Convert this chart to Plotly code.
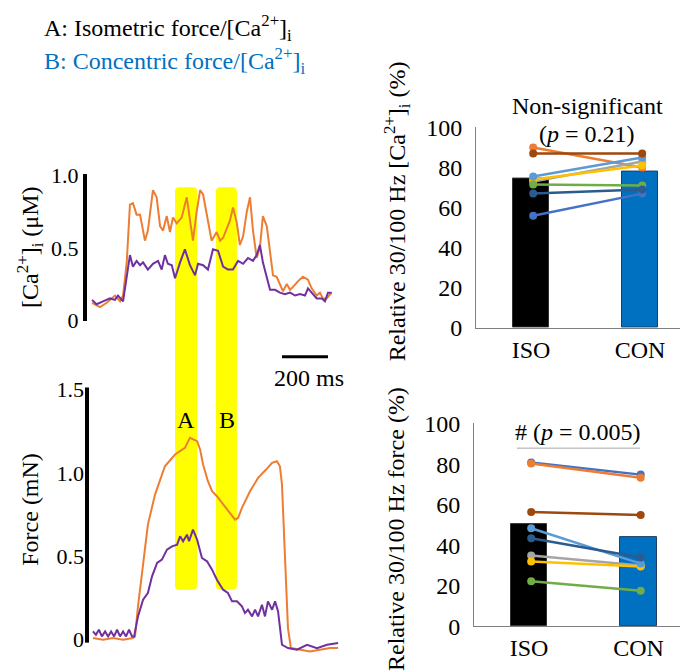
import plotly.graph_objects as go

# ---------------- data ----------------
# Ca2+ traces (time in ms, [Ca2+]i in uM)
ca_orange_t = [0, 35, 64, 100, 122, 135, 151, 165, 178, 194, 209, 230, 243, 265, 281, 296, 309, 325, 339, 352,
               368, 390, 412, 426, 439, 455, 470, 483, 499, 520, 542, 557, 570, 586, 600, 613, 629, 643, 657, 673,
               687, 700, 716, 730, 743, 760, 774, 787, 803, 817, 830, 847, 861, 874, 896, 917, 939, 955, 977, 991,
               1004, 1020, 1042]
ca_orange_v = [0.12, 0.09, 0.12, 0.17, 0.13, 0.17, 0.40, 0.80, 0.81, 0.73, 0.73, 0.55, 0.62, 0.90, 0.85, 0.65, 0.62,
               0.72, 0.61, 0.71, 0.67, 0.71, 0.85, 0.69, 0.55, 0.75, 0.90, 0.87, 0.73, 0.55, 0.61, 0.55, 0.57, 0.63,
               0.69, 0.78, 0.68, 0.52, 0.58, 0.75, 0.85, 0.62, 0.43, 0.50, 0.72, 0.65, 0.45, 0.31, 0.30, 0.25, 0.20,
               0.25, 0.21, 0.23, 0.27, 0.30, 0.28, 0.22, 0.17, 0.19, 0.15, 0.15, 0.19]
ca_purple_t = [0, 20, 48, 78, 100, 113, 135, 151, 165, 178, 194, 209, 222, 243, 265, 287, 303, 317, 330, 347,
               361, 383, 404, 426, 448, 461, 483, 504, 526, 548, 570, 591, 613, 635, 657, 678, 700, 716, 730, 743,
               760, 774, 796, 817, 839, 861, 883, 904, 926, 939, 955, 977, 999, 1013, 1026, 1042]
ca_purple_v = [0.14, 0.11, 0.13, 0.15, 0.14, 0.17, 0.13, 0.29, 0.45, 0.37, 0.41, 0.38, 0.40, 0.35, 0.39, 0.41, 0.35,
               0.45, 0.39, 0.38, 0.29, 0.40, 0.49, 0.38, 0.31, 0.39, 0.38, 0.35, 0.49, 0.48, 0.37, 0.35, 0.35, 0.41,
               0.39, 0.43, 0.41, 0.45, 0.52, 0.40, 0.29, 0.21, 0.21, 0.19, 0.18, 0.19, 0.17, 0.18, 0.17, 0.22, 0.19,
               0.15, 0.15, 0.13, 0.19, 0.19]

# Force traces (time in ms, force in mN)
f_orange_t = [4, 48, 91, 135, 178, 187, 200, 222, 243, 274, 296, 317, 361, 404, 426, 457, 470, 483, 504, 522, 543,
              570, 600, 622, 635, 652, 687, 722, 757, 783, 804, 817, 826, 835, 843, 852, 865, 904, 948, 991, 1035,
              1070]
f_orange_v = [0.01, 0.00, 0.01, 0.00, 0.01, 0.02, 0.20, 0.47, 0.69, 0.87, 0.96, 1.04, 1.11, 1.15, 1.21, 1.19, 1.14,
              1.05, 0.95, 0.89, 0.86, 0.81, 0.76, 0.72, 0.73, 0.79, 0.89, 0.97, 1.02, 1.06, 1.07, 1.04, 0.93, 0.65,
              0.30, 0.07, -0.05, -0.06, -0.07, -0.06, -0.05, -0.05]
f_purple_t = [4, 17, 30, 43, 57, 70, 83, 96, 109, 122, 135, 148, 161, 174, 183, 200, 222, 243, 261, 283, 304, 326,
              348, 370, 383, 396, 413, 422, 439, 457, 478, 500, 522, 543, 570, 591, 609, 630, 652, 665, 678, 696,
              709, 722, 739, 752, 765, 783, 796, 809, 826, 852, 891, 935, 978, 1022, 1070]
f_purple_v = [0.05, 0.03, 0.06, 0.02, 0.05, 0.02, 0.05, 0.02, 0.06, 0.02, 0.05, 0.02, 0.06, 0.02, 0.02, 0.14, 0.24,
              0.28, 0.38, 0.46, 0.48, 0.54, 0.56, 0.57, 0.62, 0.59, 0.63, 0.59, 0.66, 0.60, 0.49, 0.47, 0.42, 0.36,
              0.30, 0.28, 0.23, 0.23, 0.20, 0.16, 0.18, 0.14, 0.18, 0.14, 0.21, 0.14, 0.23, 0.18, 0.23, 0.17, -0.03,
              -0.05, -0.06, -0.03, -0.05, -0.03, -0.02]

# analysis windows (ms) and scale bar (ms)
window_A = [361, 457]
window_B = [539, 630]
scale_bar = [826, 1026]

# paired data
groups = ["ISO", "CON"]
subject_colors = ["#4472C4", "#ED7D31", "#A5A5A5", "#FFC000", "#5B9BD5", "#70AD47", "#2A5C8F", "#9E480E"]
ca_rel_iso = [56, 90, 73, 74, 75.5, 71.6, 67, 87]
ca_rel_con = [67, 80, 83, 81, 85, 71, 69, 87]
ca_rel_mean = [74.5, 78]
force_rel_iso = [81, 80.5, 35, 32, 48.5, 22.3, 43.5, 56.5]
force_rel_con = [75, 73.5, 30, 29.5, 31, 17.6, 34, 55]
force_rel_mean = [50.5, 44.3]
bar_colors = ["#000000", "#0070C0"]

# ---------------- layout geometry (pixels) ----------------
W, H = 680, 672
SERIF = "Liberation Serif, Times New Roman, serif"
FS = 24
ORANGE, PURPLE = "#ED7D31", "#7030A0"

def px(x):
    return x / W

def py(y):
    return 1 - y / H

T0_PX, PX_PER_MS = 92, 0.23
TRACE_X_DOM = (87, 345)
t_range = [(TRACE_X_DOM[0] - T0_PX) / PX_PER_MS, (TRACE_X_DOM[1] - T0_PX) / PX_PER_MS]

CA_ZERO, CA_SCALE, CA_DOM = 320, 150, (168, 321)
F_ZERO, F_SCALE, F_DOM, F_LINE = 652, 173.3, (390, 672), (390, 655)

def t2px(t):
    return T0_PX + PX_PER_MS * t

fig = go.Figure()

fig.add_trace(go.Scatter(x=ca_orange_t, y=ca_orange_v, mode="lines", line=dict(color=ORANGE, width=2),
                         xaxis="x", yaxis="y", hoverinfo="skip"))
fig.add_trace(go.Scatter(x=ca_purple_t, y=ca_purple_v, mode="lines", line=dict(color=PURPLE, width=2),
                         xaxis="x", yaxis="y", hoverinfo="skip"))
fig.add_trace(go.Scatter(x=f_orange_t, y=f_orange_v, mode="lines", line=dict(color=ORANGE, width=2),
                         xaxis="x2", yaxis="y2", hoverinfo="skip"))
fig.add_trace(go.Scatter(x=f_purple_t, y=f_purple_v, mode="lines", line=dict(color=PURPLE, width=2),
                         xaxis="x2", yaxis="y2", hoverinfo="skip"))

# bars
fig.add_trace(go.Bar(x=[0, 1], y=ca_rel_mean, width=0.33, marker=dict(color=bar_colors,
                     line=dict(color=["#333333", "#1F3F66"], width=1)), xaxis="x3", yaxis="y3"))
fig.add_trace(go.Bar(x=[0, 1], y=force_rel_mean, width=0.33, marker=dict(color=bar_colors,
                     line=dict(color=["#333333", "#1F3F66"], width=1)), xaxis="x4", yaxis="y4"))
for c, a, b in zip(subject_colors, ca_rel_iso, ca_rel_con):
    fig.add_trace(go.Scatter(x=[0.02, 1.02], y=[a, b], mode="lines+markers", line=dict(color=c, width=2.5),
                             marker=dict(color=c, size=8), xaxis="x3", yaxis="y3"))
for c, a, b in zip(subject_colors, force_rel_iso, force_rel_con):
    fig.add_trace(go.Scatter(x=[0.02, 1.02], y=[a, b], mode="lines+markers", line=dict(color=c, width=2.5),
                             marker=dict(color=c, size=8), xaxis="x4", yaxis="y4"))

tick_font = dict(family=SERIF, size=FS, color="black")
trace_tick_font = dict(family=SERIF, size=22, color="black")

# trace axes
fig.update_layout(
    xaxis=dict(domain=[px(TRACE_X_DOM[0]), px(TRACE_X_DOM[1])], range=t_range, visible=False, anchor="y"),
    xaxis2=dict(domain=[px(TRACE_X_DOM[0]), px(TRACE_X_DOM[1])], range=t_range, visible=False, anchor="y2"),
    yaxis=dict(domain=[py(CA_DOM[1]), py(CA_DOM[0])],
               range=[(CA_ZERO - CA_DOM[1]) / CA_SCALE, (CA_ZERO - CA_DOM[0]) / CA_SCALE],
               tickvals=[0, 0.5, 1.0], ticktext=["0", "0.5", "1.0"], showline=True, linewidth=4,
               linecolor="black", showgrid=False, zeroline=False, ticks="", tickfont=trace_tick_font, anchor="x",
               ticklabelstandoff=0),
    yaxis2=dict(domain=[py(F_DOM[1]), py(F_DOM[0])],
                range=[(F_ZERO - F_DOM[1]) / F_SCALE, (F_ZERO - F_DOM[0]) / F_SCALE],
                tickvals=[0, 0.5, 1.0, 1.5], ticktext=["0", "0.5", "1.0", "1.5"], showline=False,
                showgrid=False, zeroline=False, ticks="", tickfont=trace_tick_font, anchor="x2",
                ticklabelstandoff=2),
)

# bar axes
def bar_xrange(xdom, iso_c, con_c):
    unit = con_c - iso_c
    return [(xdom[0] - iso_c) / unit, (xdom[1] - iso_c) / unit]

xr3 = bar_xrange((476, 680), 531, 640)
xr4 = bar_xrange((474, 680), 529, 638.5)
AX_GRAY = "#7F7F7F"
fig.update_layout(
    xaxis3=dict(domain=[px(476), px(680)], range=xr3, tickvals=[0, 1], ticktext=groups, showline=True,
                linecolor=AX_GRAY, linewidth=1, showgrid=False, zeroline=False, ticks="", tickfont=tick_font,
                anchor="y3"),
    yaxis3=dict(domain=[py(328), py(119)], range=[0, (328 - 119) / 2.08], tickvals=[0, 20, 40, 60, 80, 100],
                showline=True, linecolor=AX_GRAY, linewidth=1, showgrid=False, zeroline=False, ticks="",
                tickfont=tick_font, anchor="x3", ticklabelstandoff=8),
    xaxis4=dict(domain=[px(474), px(680)], range=xr4, tickvals=[0, 1], ticktext=groups, showline=True,
                linecolor=AX_GRAY, linewidth=1, showgrid=False, zeroline=False, ticks="", tickfont=tick_font,
                anchor="y4"),
    yaxis4=dict(domain=[py(638), py(427)], range=[0, (638 - 427) / 2.1], tickvals=[0, 20, 40, 60, 80, 100],
                showline=True, linecolor=AX_GRAY, linewidth=1, showgrid=False, zeroline=False, ticks="",
                tickfont=tick_font, anchor="x4", ticklabelstandoff=8),
)

# yellow windows with rounded corners
def band_path(t0, t1, ytop_px, ybot_px, r=4):
    x0, x1 = px(t2px(t0)), px(t2px(t1))
    rx, ry = r / W, r / H
    y0, y1 = py(ybot_px), py(ytop_px)
    return (f"M {x0+rx},{y1} L {x1-rx},{y1} Q {x1},{y1} {x1},{y1-ry} L {x1},{y0+ry} Q {x1},{y0} {x1-rx},{y0} "
            f"L {x0+rx},{y0} Q {x0},{y0} {x0},{y0+ry} L {x0},{y1-ry} Q {x0},{y1} {x0+rx},{y1} Z")

shapes = []
for w in (window_A, window_B):
    shapes.append(dict(type="path", path=band_path(w[0], w[1], 182, 600), xref="paper", yref="paper",
                       fillcolor="#FFFF00", line=dict(width=0), layer="below"))
# force axis bar (drawn separately so that traces may dip below zero)
shapes.append(dict(type="line", xref="paper", yref="paper", x0=px(87), x1=px(87), y0=py(F_LINE[1]),
                   y1=py(F_LINE[0]), line=dict(color="black", width=4)))
shapes.append(dict(type="line", xref="x2", yref="paper", x0=scale_bar[0], x1=scale_bar[1], y0=py(358), y1=py(358),
                   line=dict(color="black", width=3)))
shapes.append(dict(type="line", xref="paper", yref="paper", x0=px(517), x1=px(640), y0=py(453), y1=py(453),
                   line=dict(color="#A6A6A6", width=1)))

def ann(text, x, y, color="black", angle=0, xanchor="center"):
    return dict(text=text, x=px(x), y=py(y), xref="paper", yref="paper", showarrow=False, textangle=angle,
                xanchor=xanchor, yanchor="middle", font=dict(family=SERIF, size=FS, color=color))

annotations = [
    ann("A: Isometric force/[Ca<sup>2+</sup>]<sub>i</sub>", 42, 17, xanchor="left"),
    ann("B: Concentric force/[Ca<sup>2+</sup>]<sub>i</sub>", 42, 51, color="#0070C0", xanchor="left"),
    ann("[Ca<sup>2+</sup>]<sub>i</sub> (μM)", 30, 245, angle=-90),
    ann("Force (mN)", 30, 517, angle=-90),
    ann("A", 186, 424),
    ann("B", 227, 424),
    ann("200 ms", 309, 380),
    ann("Non-significant", 587, 98),
    ann("(<i>p</i> = 0.21)", 587, 127),
    ann("# (<i>p</i> = 0.005)", 578, 436),
    ann("Relative 30/100 Hz [Ca<sup>2+</sup>]<sub>i</sub> (%)", 397, 207, angle=-90),
    ann("Relative 30/100 Hz force (%)", 396, 537, angle=-90),
]

fig.update_layout(width=W, height=H, margin=dict(l=0, r=0, t=0, b=0), showlegend=False,
                  paper_bgcolor="white", plot_bgcolor="rgba(0,0,0,0)", shapes=shapes, annotations=annotations,
                  bargap=0)

fig.write_html("out.html")
